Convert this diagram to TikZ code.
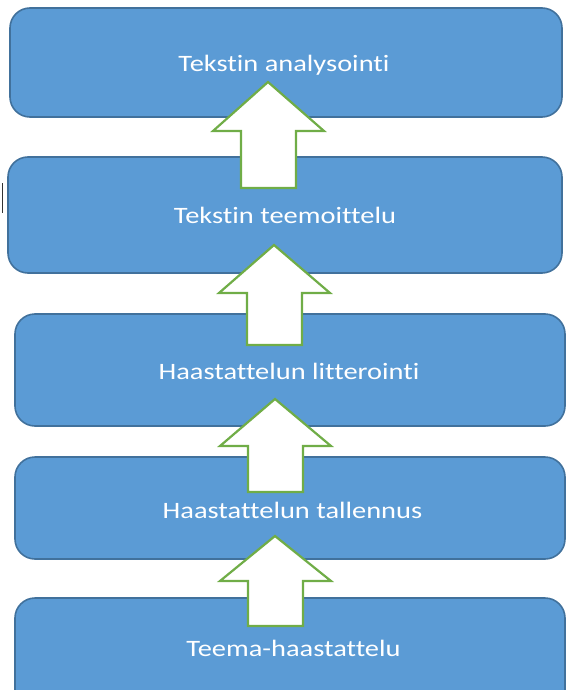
\documentclass[tikz,border=0pt]{standalone}
\usepackage{fontspec}
\setmainfont[Ligatures=NoCommon]{Carlito}
\newcommand{\boxlabel}[1]{\scalebox{1.21}[1]{#1}}
\begin{document}
\begin{tikzpicture}[x=1pt,y=-1pt,
  stepbox/.style={draw=boxedge,fill=boxfill,line width=1.6pt,rounded corners=20pt},
  steplabel/.style={text=white,font=\fontsize{23.5}{28}\selectfont,inner sep=0pt,anchor=base},
  blockarrow/.style={draw=arrgreen,fill=white,line width=2.2pt,line join=miter}]
\definecolor{boxfill}{HTML}{5B9BD5}
\definecolor{boxedge}{HTML}{41719C}
\definecolor{arrgreen}{HTML}{70AD47}
\useasboundingbox (0,0) rectangle (568,690);
\begin{scope}
\clip (0,0) rectangle (568,690);
% boxes
\path[stepbox] (10,8) rectangle (562,117);
\node[steplabel] (b1) at (284,72) {\boxlabel{Tekstin analysointi}};
\path[stepbox] (8,157) rectangle (562,273);
\node[steplabel] (b2) at (285,223) {\boxlabel{Tekstin teemoittelu}};
\path[stepbox] (15,314) rectangle (565,426);
\node[steplabel] (b3) at (289,379) {\boxlabel{Haastattelun litterointi}};
\path[stepbox] (15,457) rectangle (565,559);
\node[steplabel] (b4) at (292.5,518) {\boxlabel{Haastattelun tallennus}};
\path[stepbox] (15,598) rectangle (565,720);
\node[steplabel] (b5) at (293.5,656) {\boxlabel{Teema-haastattelu}};
% arrows: tip x, tip y, head base y, bottom y
\newcommand{\uparrowshape}[4]{%
  \draw[blockarrow] (#1,#2) -- (#1+56,#3) -- (#1+28,#3) -- (#1+28,#4)
     -- (#1-27,#4) -- (#1-27,#3) -- (#1-55,#3) -- cycle;}
\uparrowshape{268}{82}{131}{188}
\uparrowshape{274}{245}{293}{345}
\uparrowshape{275}{399}{446}{492}
\uparrowshape{275}{536}{581}{626}
% text cursor
\draw[line width=1.2pt,black!80] (2.5,183) -- (2.5,213);
\end{scope}
\end{tikzpicture}
\end{document}
